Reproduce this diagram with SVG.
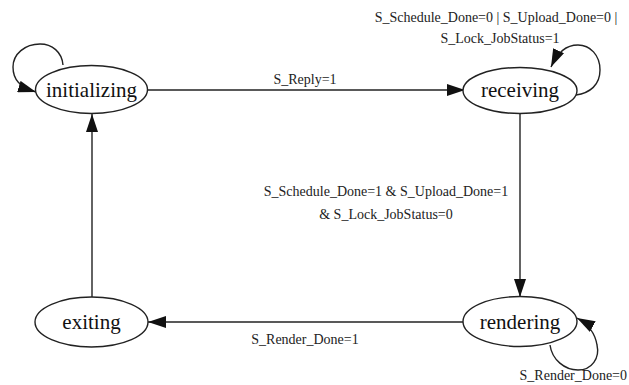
<svg xmlns="http://www.w3.org/2000/svg" width="629" height="385" viewBox="0 0 629 385">
<style>
.node ellipse{fill:#fff;stroke:#222;stroke-width:1.4}
.node text{font-family:"Liberation Serif",serif;font-size:21px;fill:#111;text-anchor:middle}
.edge{fill:none;stroke:#222;stroke-width:1.4}
.lbl{font-family:"Liberation Serif",serif;font-size:14px;fill:#222;text-anchor:middle}
</style>
<defs>
<marker id="ahb" viewBox="0 0 18 12" refX="18" refY="6" markerWidth="18" markerHeight="12" markerUnits="userSpaceOnUse" orient="auto">
<path d="M0,0 L18,6 L0,12 Z" fill="#111"/>
</marker>
</defs>
<g id="connectors">
<path class="edge" d="M148,90 L465,90" marker-end="url(#ahb)"/>
<path class="edge" d="M520,113 L520,297" marker-end="url(#ahb)"/>
<path class="edge" d="M463,322 L148,322" marker-end="url(#ahb)"/>
<path class="edge" d="M92,297 L92,114" marker-end="url(#ahb)"/>
<path class="edge" d="M63,65 C62,52 52,44 40,44 C25,44 13,54 13,67 C13,80 20,87 36,92" marker-end="url(#ahb)"/>
<path class="edge" d="M576,95 C590,93 600,85 600,70 C600,55 590,45 578,45 C566,45 558,52 551,67" marker-end="url(#ahb)"/>
<path class="edge" d="M550,345 C552,360 565,370 578,370 C592,370 600,358 597,345 C595,333 588,324 577,318" marker-end="url(#ahb)"/>
<text class="lbl" x="305" y="84">S_Reply=1</text>
<text class="lbl" x="496" y="22">S_Schedule_Done=0 |  S_Upload_Done=0 |</text>
<text class="lbl" x="500" y="43">S_Lock_JobStatus=1</text>
<text class="lbl" x="386" y="196">S_Schedule_Done=1 &amp; S_Upload_Done=1</text>
<text class="lbl" x="386" y="219">&amp; S_Lock_JobStatus=0</text>
<text class="lbl" x="305" y="344">S_Render_Done=1</text>
<text class="lbl" x="627" y="380" style="text-anchor:end">S_Render_Done=0</text>
</g>
<g id="initializing" class="node">
<ellipse cx="91.5" cy="89.5" rx="56" ry="24"/>
<text x="91.5" y="97">initializing</text>
</g>
<g id="receiving" class="node">
<ellipse cx="520" cy="90.5" rx="57" ry="23"/>
<text x="520" y="97">receiving</text>
</g>
<g id="rendering" class="node">
<ellipse cx="520" cy="321.5" rx="57" ry="25"/>
<text x="520" y="329">rendering</text>
</g>
<g id="exiting" class="node">
<ellipse cx="91.5" cy="322" rx="56.5" ry="25"/>
<text x="91.5" y="329">exiting</text>
</g>
</svg>
